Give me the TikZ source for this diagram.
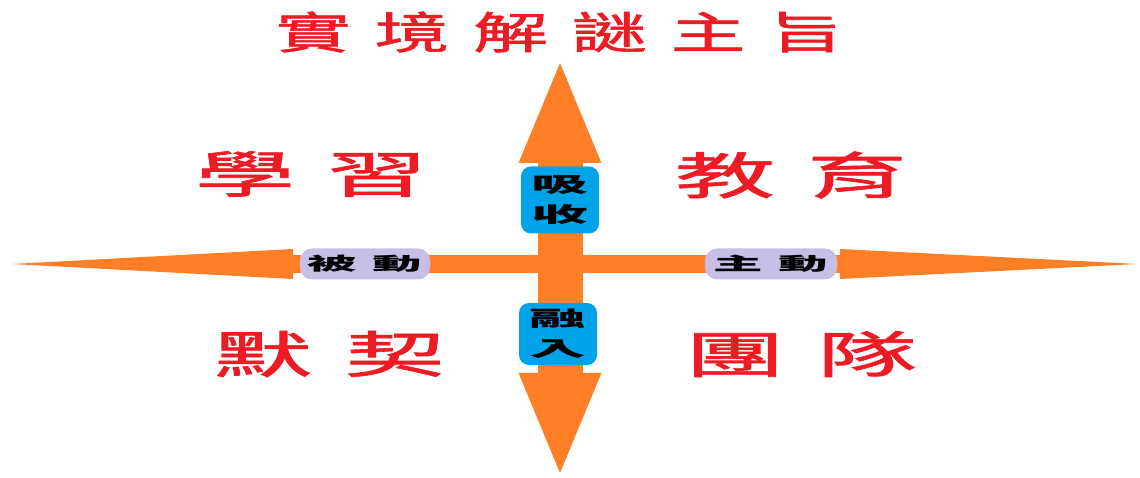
\documentclass[tikz,border=0pt]{standalone}
\usepackage{fontspec}
\newfontfamily\cjk{Noto Sans CJK TC}
\newfontfamily\cjkred[FakeBold=1.2]{Noto Sans CJK TC}
\usetikzlibrary{arrows.meta,positioning}

\definecolor{barorange}{HTML}{FF7F27}
\definecolor{boxblue}{HTML}{00A2E8}
\definecolor{boxlav}{HTML}{C8BFE7}
\definecolor{themered}{HTML}{ED1C24}

\newcommand{\wide}[2]{\scalebox{#1}[1]{#2}}
\newcommand{\gap}{\hspace{0.32em}}

\begin{document}
\begin{tikzpicture}[x=1pt, y=1pt,
    vbar/.style={draw=barorange, line width=45pt,
      {Triangle[length=100pt,width=83pt,line width=0pt]}-{Triangle[length=100pt,width=83pt,line width=0pt]}},
    hbar/.style={draw=barorange, line width=18pt,
      {Triangle[length=281pt,width=30pt,line width=0pt]}-{Triangle[length=298pt,width=30pt,line width=0pt]}},
    theme/.style={text=themered, inner sep=0pt, font=\cjkred\fontsize{44}{52}\selectfont},
    quad/.style={text=themered, inner sep=0pt, font=\cjkred\fontsize{50}{60}\selectfont},
    vbox/.style={rectangle, rounded corners=10pt, fill=boxblue, minimum width=78pt, inner sep=0pt,
      align=center, font=\cjk\bfseries\fontsize{21}{30}\selectfont},
    hbox/.style={rectangle, rounded corners=12pt, fill=boxlav, minimum height=31pt, inner sep=0pt,
      font=\cjk\bfseries\fontsize{18}{22}\selectfont}]

  \useasboundingbox (0,0) rectangle (1140,478);

  % Ends of the cross
  \coordinate (vtop) at (560,415);
  \coordinate (vbot) at (560,5);
  \coordinate (hleft) at (12,214);
  \coordinate (hright) at (1138,214);

  % Cross
  \draw[hbar] (hleft) -- (hright);
  \draw[vbar] (vbot) -- (vtop);

  % Boxes on the cross
  \node[vbox, minimum height=67pt] (absorb) at (560,278) {\wide{2.7}{吸}\\\wide{2.7}{收}};
  \node[vbox, minimum height=62pt] (merge) at (558,144) {\wide{2.7}{融}\\\wide{2.7}{入}};
  \node[hbox, minimum width=130pt] (passive) at (365,214) {\wide{2.75}{被\gap 動}};
  \node[hbox, minimum width=132pt] (active) at (771,214) {\wide{2.75}{主\gap 動}};

  % Title and quadrants
  \node[theme] (title) at (560,446) {\wide{1.7}{實\gap 境\gap 解\gap 謎\gap 主\gap 旨}};
  \node[quad] (learn) at (311,304) {\wide{2.0}{學\gap 習}};
  \node[quad] (teach) at (791,303) {\wide{2.0}{教\gap 育}};
  \node[quad] (rapport) at (329,124) {\wide{2.0}{默\gap 契}};
  \node[quad] (team) at (801,124) {\wide{2.0}{團\gap 隊}};

\end{tikzpicture}
\end{document}
